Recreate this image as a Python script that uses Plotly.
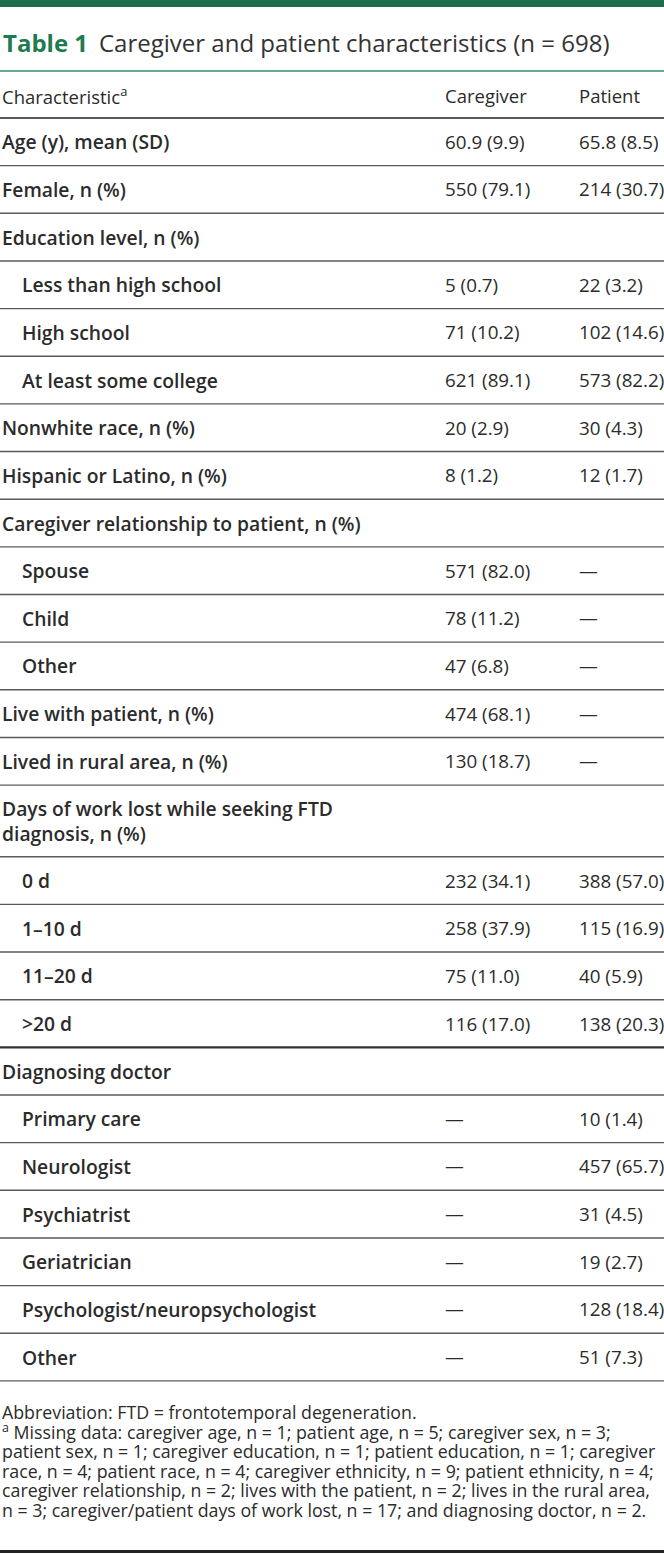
import plotly.graph_objects as go

# ---------------- data ----------------
title_label = "Table 1"
title_text = "Caregiver and patient characteristics (n = 698)"
col_headers = ["Characteristic<sup>a</sup>", "Caregiver", "Patient"]

labels = [
    "Age (y), mean (SD)",
    "Female, n (%)",
    "Education level, n (%)",
    "Less than high school",
    "High school",
    "At least some college",
    "Nonwhite race, n (%)",
    "Hispanic or Latino, n (%)",
    "Caregiver relationship to patient, n (%)",
    "Spouse",
    "Child",
    "Other",
    "Live with patient, n (%)",
    "Lived in rural area, n (%)",
    "Days of work lost while seeking FTD<br>diagnosis, n (%)",
    "0 d",
    "1–10 d",
    "11–20 d",
    ">20 d",
    "Diagnosing doctor",
    "Primary care",
    "Neurologist",
    "Psychiatrist",
    "Geriatrician",
    "Psychologist/neuropsychologist",
    "Other",
]
levels = [0, 0, 0, 1, 1, 1, 0, 0, 0, 1, 1, 1, 0, 0, 0, 1, 1, 1, 1, 0, 1, 1, 1, 1, 1, 1]
caregiver = [
    "60.9 (9.9)", "550 (79.1)", "", "5 (0.7)", "71 (10.2)", "621 (89.1)",
    "20 (2.9)", "8 (1.2)", "", "571 (82.0)", "78 (11.2)", "47 (6.8)",
    "474 (68.1)", "130 (18.7)", "", "232 (34.1)", "258 (37.9)", "75 (11.0)",
    "116 (17.0)", "", "—", "—", "—", "—", "—", "—",
]
patient = [
    "65.8 (8.5)", "214 (30.7)", "", "22 (3.2)", "102 (14.6)", "573 (82.2)",
    "30 (4.3)", "12 (1.7)", "", "—", "—", "—",
    "—", "—", "", "388 (57.0)", "115 (16.9)", "40 (5.9)",
    "138 (20.3)", "", "10 (1.4)", "457 (65.7)", "31 (4.5)", "19 (2.7)", "128 (18.4)", "51 (7.3)",
]
footnotes = [
    "Abbreviation: FTD = frontotemporal degeneration.",
    "<sup>a</sup> Missing data: caregiver age, n = 1; patient age, n = 5; caregiver sex, n = 3;",
    "patient sex, n = 1; caregiver education, n = 1; patient education, n = 1; caregiver",
    "race, n = 4; patient race, n = 4; caregiver ethnicity, n = 9; patient ethnicity, n = 4;",
    "caregiver relationship, n = 2; lives with the patient, n = 2; lives in the rural area,",
    "n = 3; caregiver/patient days of work lost, n = 17; and diagnosing doctor, n = 2.",
]
# section break (heavier rule) after this row
heavy_rule_after = ">20 d"

# ---------------- layout ----------------
W, H = 664, 1554
FONT = "Open Sans"
TXT = "#2b2b2b"
GREEN = "#1c6e4c"
ROW_H = 47.65
LINE_H = 24.0
COL_X = [0, 443, 577]
INDENT = 20

fig = go.Figure()
ann = []
shapes = []

def hline(y, color, width):
    shapes.append(dict(type="line", xref="x", yref="y", x0=0, x1=W, y0=y, y1=y,
                       line=dict(color=color, width=width)))

# top bar
shapes.append(dict(type="rect", xref="x", yref="y", x0=0, x1=W, y0=0, y1=7,
                   fillcolor=GREEN, line=dict(width=0)))
# title
ann.append(dict(x=1, y=42, text=f"<b>{title_label}</b>", font=dict(family=FONT, size=24, color="#1f7a52"),
                xanchor="left", yanchor="middle"))
ann.append(dict(x=97, y=42, text=title_text, font=dict(family=FONT, size=24, color="#333333"),
                xanchor="left", yanchor="middle"))
hline(71, "#3d8b66", 1.6)

# header
for i, h in enumerate(col_headers):
    ann.append(dict(x=COL_X[i], y=95, text=h, font=dict(family=FONT, size=18.5, color=TXT),
                    xanchor="left", yanchor="middle"))
hline(118, "#222222", 1.6)

y = 118
for lab, lev, cg, pt in zip(labels, levels, caregiver, patient):
    nlines = lab.count("<br>") + 1
    rh = ROW_H + LINE_H * (nlines - 1)
    yc = y + rh / 2
    ann.append(dict(x=COL_X[0] + INDENT * lev, y=yc, text=lab,
                    font=dict(family=FONT, size=19.3, color=TXT, weight=600),
                    xanchor="left", yanchor="middle", align="left"))
    for cx, v in ((COL_X[1], cg), (COL_X[2], pt)):
        if v:
            ann.append(dict(x=cx, y=yc, text=v, font=dict(family=FONT, size=18.8, color=TXT),
                            xanchor="left", yanchor="middle"))
    y += rh
    if lab == heavy_rule_after:
        hline(y, "#333333", 2.2)
    else:
        hline(y, "#5a5a5a", 1.4)

# footnotes
fy = y + 31
for i, f in enumerate(footnotes):
    ann.append(dict(x=0, y=fy + 19.6 * i, text=f, font=dict(family=FONT, size=17.8, color=TXT),
                    xanchor="left", yanchor="middle"))
hline(1551.5, "#222222", 3)

for a in ann:
    a.update(xref="x", yref="y", showarrow=False)

fig.update_layout(
    width=W, height=H, margin=dict(l=0, r=0, t=0, b=0),
    paper_bgcolor="white", plot_bgcolor="white",
    xaxis=dict(range=[0, W], visible=False, fixedrange=True),
    yaxis=dict(range=[H, 0], visible=False, fixedrange=True),
    annotations=ann, shapes=shapes, showlegend=False,
)
fig.write_html(
    "out.html",
    config={"displayModeBar": False},
    post_script="document.body.style.margin='0';document.documentElement.style.overflow='hidden';",
)
